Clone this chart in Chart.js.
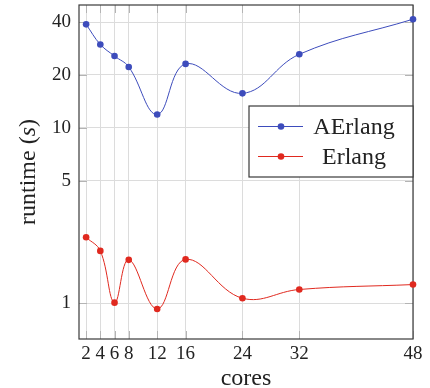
<!DOCTYPE html>
<html>
<head>
<meta charset="utf-8">
<script src="https://cdn.jsdelivr.net/npm/chart.js@4/dist/chart.umd.min.js"></script>
<style>
  html, body { margin: 0; padding: 0; background: #fff; }
  #wrap { width: 430px; height: 388px; }
</style>
</head>
<body>
<div id="wrap"><canvas id="c" width="430" height="388"></canvas></div>
<script>
const cores = [2, 4, 6, 8, 12, 16, 24, 32, 48];
const aerlang = [38.8, 29.8, 25.6, 22.2, 11.9, 23.1, 15.7, 26.2, 41.5];
const erlang = [2.38, 1.99, 1.01, 1.77, 0.93, 1.78, 1.07, 1.20, 1.28];
const xTicks = [2, 4, 6, 8, 12, 16, 24, 32, 48];
const yTicks = [1, 5, 10, 20, 40];
const seriesNames = ['AErlang', 'Erlang'];
const seriesColors = ['#3d4cbc', '#e0291f'];
const xTitle = 'cores';
const yTitleParts = [['runtime (', 'normal'], ['s', 'italic'], [')', 'normal']];

const SERIF = '"Liberation Serif", "Times New Roman", serif';

const framePlugin = {
  id: 'frame',
  beforeDatasetsDraw(chart) {
    const {ctx, chartArea: a, scales: {x, y}} = chart;
    ctx.save();
    ctx.strokeStyle = '#b4b4b4';
    ctx.lineWidth = 1;
    const tl = 8;
    xTicks.forEach(v => {
      const px = Math.round(x.getPixelForValue(v)) + 0.5;
      ctx.beginPath();
      ctx.moveTo(px, a.bottom); ctx.lineTo(px, a.bottom - tl);
      ctx.moveTo(px, a.top); ctx.lineTo(px, a.top + tl);
      ctx.stroke();
    });
    yTicks.forEach(v => {
      const py = Math.round(y.getPixelForValue(v)) + 0.5;
      ctx.beginPath();
      ctx.moveTo(a.left, py); ctx.lineTo(a.left + tl, py);
      ctx.moveTo(a.right, py); ctx.lineTo(a.right - tl, py);
      ctx.stroke();
    });
    ctx.strokeStyle = '#3a3a3a';
    ctx.lineWidth = 1.2;
    ctx.strokeRect(a.left, a.top, a.right - a.left, a.bottom - a.top);
    ctx.restore();
  },
  afterDraw(chart) {
    const {ctx, chartArea: a} = chart;
    ctx.save();
    // y title
    ctx.translate(35, (a.top + a.bottom) / 2);
    ctx.rotate(-Math.PI / 2);
    ctx.fillStyle = '#222';
    ctx.textBaseline = 'alphabetic';
    let total = 0;
    const widths = yTitleParts.map(([t, s]) => {
      ctx.font = s + ' 24px ' + SERIF;
      const w = ctx.measureText(t).width;
      total += w;
      return w;
    });
    let cx = -total / 2;
    yTitleParts.forEach(([t, s], i) => {
      ctx.font = s + ' 24px ' + SERIF;
      ctx.fillText(t, cx, 0);
      cx += widths[i];
    });
    ctx.restore();

    // legend
    ctx.save();
    const bw = 164, bh = 71;
    const bx = a.right - bw, by = a.top + 101;
    ctx.fillStyle = '#fff';
    ctx.fillRect(bx, by, bw, bh);
    ctx.strokeStyle = '#3a3a3a';
    ctx.lineWidth = 1.2;
    ctx.strokeRect(bx, by, bw, bh);
    chart.data.datasets.forEach((ds, i) => {
      const ly = by + 20.5 + i * 30;
      ctx.strokeStyle = ds.borderColor;
      ctx.lineWidth = 1;
      ctx.beginPath();
      ctx.moveTo(bx + 9, ly); ctx.lineTo(bx + 54, ly);
      ctx.stroke();
      ctx.fillStyle = ds.backgroundColor;
      ctx.beginPath();
      ctx.arc(bx + 32, ly, 3.3, 0, Math.PI * 2);
      ctx.fill();
      ctx.fillStyle = '#222';
      ctx.font = '24px ' + SERIF;
      ctx.textAlign = 'center';
      ctx.textBaseline = 'middle';
      ctx.fillText(ds.label, bx + 105, ly + 1);
    });
    ctx.restore();
  }
};

function noPad(s) {
  s.paddingTop = 0; s.paddingBottom = 0; s.paddingLeft = 0; s.paddingRight = 0;
}

const ctx = document.getElementById('c').getContext('2d');
new Chart(ctx, {
  type: 'line',
  data: {
    datasets: [
      { label: seriesNames[0], data: cores.map((c, i) => ({x: c, y: aerlang[i]})),
        borderColor: seriesColors[0], backgroundColor: seriesColors[0] },
      { label: seriesNames[1], data: cores.map((c, i) => ({x: c, y: erlang[i]})),
        borderColor: seriesColors[1], backgroundColor: seriesColors[1] }
    ]
  },
  options: {
    responsive: false,
    animation: false,
    devicePixelRatio: 1,
    layout: { padding: { top: 5, right: 17, left: 0, bottom: 0 } },
    elements: {
      line: { tension: 0.4, borderWidth: 1 },
      point: { radius: 3.3, borderWidth: 0, hoverRadius: 3.3 }
    },
    datasets: { line: { clip: false } },
    plugins: { legend: { display: false }, tooltip: { enabled: false } },
    scales: {
      x: {
        type: 'linear', min: 1, max: 48, bounds: 'data',
        afterBuildTicks: s => { s.ticks = xTicks.map(v => ({value: v})); },
        afterFit: s => { s.height = 49; noPad(s); },
        ticks: { autoSkip: false, maxRotation: 0, padding: 4, color: '#222',
                 font: { family: SERIF, size: 19 }, callback: v => String(v) },
        grid: { color: '#dcdcdc', drawTicks: false, lineWidth: 1 },
        border: { display: false },
        title: { display: true, text: xTitle, color: '#222',
                 font: { family: SERIF, size: 24, lineHeight: 0.75 }, padding: { top: 0, bottom: 0 } }
      },
      y: {
        type: 'logarithmic', min: 0.627, max: 50, bounds: 'data',
        afterBuildTicks: s => { s.ticks = yTicks.map(v => ({value: v})); },
        afterFit: s => { s.width = 79; noPad(s); },
        ticks: { autoSkip: false, padding: 8, color: '#222',
                 font: { family: SERIF, size: 19 }, callback: v => String(v) },
        grid: { color: '#dcdcdc', drawTicks: false, lineWidth: 1 },
        border: { display: false }
      }
    }
  },
  plugins: [framePlugin]
});
</script>
</body>
</html>
